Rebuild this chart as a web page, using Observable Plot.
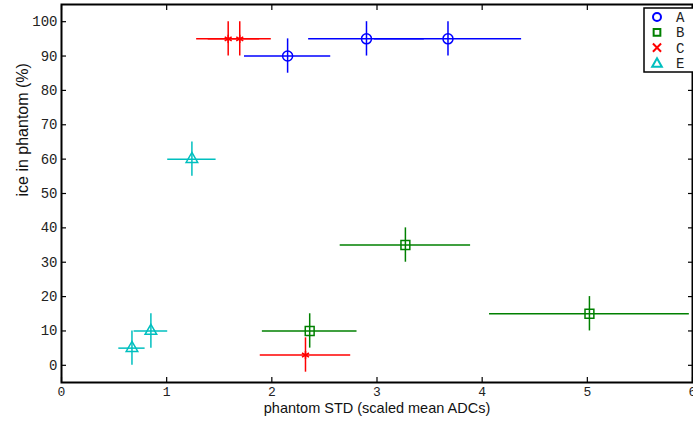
<!DOCTYPE html>
<html><head><meta charset="utf-8">
<script src="https://cdn.jsdelivr.net/npm/d3@7"></script>
<script src="https://cdn.jsdelivr.net/npm/@observablehq/plot@0.6"></script>
<style>
body{margin:0;background:#fff}
#chart{position:relative;width:693px;height:424px;overflow:hidden}
#legend{position:absolute;left:0;top:0}
</style>
</head><body><div id="chart"></div>
<script>
// ---- data ----
const seriesNames = ["A", "B", "C", "E"];
const seriesColors = ["#0000ff", "#008000", "#ff0000", "#00bfbf"];
const seriesSymbols = ["circle", "square", "asterisk", "triangle"];
const legendSymbols = ["circle", "square", "times", "triangle"];

const A_x = [2.15, 2.90, 3.675], A_y = [90, 95, 95], A_xerr = [0.41, 0.55, 0.70];
const B_x = [3.27, 2.36, 5.02],  B_y = [35, 10, 15], B_xerr = [0.62, 0.45, 0.95];
const C_x = [1.585, 1.695, 2.32], C_y = [95, 95, 3], C_xerr = [0.30, 0.30, 0.43];
const E_x = [1.24, 0.85, 0.67],  E_y = [60, 10, 5],  E_xerr = [0.23, 0.16, 0.125];
const yErr = 5;

const xTicks = [0, 1, 2, 3, 4, 5, 6];
const yTicks = [0, 10, 20, 30, 40, 50, 60, 70, 80, 90, 100];
const xLabel = "phantom STD (scaled mean ADCs)";
const yLabel = "ice in phantom (%)";

const seriesData = [[A_x, A_y, A_xerr], [B_x, B_y, B_xerr], [C_x, C_y, C_xerr], [E_x, E_y, E_xerr]];
const rowsBySeries = seriesData.map(([xs, ys, es], i) =>
  xs.map((x, j) => ({series: seriesNames[i], x, y: ys[j], ex: es[j], ey: yErr})));

const symbolR = {circle: 5, square: 5, asterisk: 3.8, triangle: 4.3};
const tickFont = "Liberation Mono, Courier New, monospace";
const labelFont = "Liberation Sans, Arial, Helvetica, sans-serif";

const marks = [];
rowsBySeries.forEach((rows, i) => {
  const c = seriesColors[i];
  marks.push(Plot.ruleY(rows, {y: "y", x1: d => d.x - d.ex, x2: d => d.x + d.ex, stroke: c, strokeWidth: 1.5}));
  marks.push(Plot.ruleX(rows, {x: "x", y1: d => d.y - d.ey, y2: d => d.y + d.ey, stroke: c, strokeWidth: 1.5}));
  marks.push(Plot.dot(rows, {x: "x", y: "y", symbol: seriesSymbols[i], r: symbolR[seriesSymbols[i]], stroke: c, fill: "none", strokeWidth: 1.5}));
});

const plot = Plot.plot({
  width: 693,
  height: 424,
  marginLeft: 61,
  marginRight: 1,
  marginTop: 4,
  marginBottom: 42,
  style: {background: "#fff", color: "#222"},
  x: {domain: [0, 6], label: null},
  y: {domain: [-5, 105], label: null},
  marks: [
    ...marks,
    Plot.axisX(xTicks, {anchor: "bottom", tickSize: -5, tickPadding: 9, label: null, fontFamily: tickFont, fontSize: 13, stroke: "black", strokeWidth: 1.2}),
    Plot.axisY(yTicks, {anchor: "left", tickSize: -5, tickPadding: 9, label: null, fontFamily: tickFont, fontSize: 14, stroke: "black", strokeWidth: 1.2}),
    Plot.axisX(xTicks, {anchor: "top", tickSize: -5, tickFormat: () => "", label: null, stroke: "black", strokeWidth: 1.2}),
    Plot.axisY(yTicks, {anchor: "right", tickSize: -5, tickFormat: () => "", label: null, stroke: "black", strokeWidth: 1.2}),
    Plot.frame({stroke: "black", strokeWidth: 2}),
    Plot.text([xLabel], {frameAnchor: "bottom", dy: 30, fontFamily: labelFont, fontSize: 14.5, fill: "#111"}),
    Plot.text([yLabel], {frameAnchor: "left", rotate: -90, dx: -39, dy: 3, fontFamily: labelFont, fontSize: 16, fill: "#111"})
  ]
});
document.getElementById("chart").appendChild(plot);

// ---- legend ----
const lg = d3.select("#chart").append("svg").attr("id", "legend").attr("width", 693).attr("height", 424);
lg.append("rect").attr("x", 644).attr("y", 8).attr("width", 60).attr("height", 64)
  .attr("fill", "#fff").attr("stroke", "black").attr("stroke-width", 1.5);
const symMap = {circle: d3.symbolCircle, square: d3.symbolSquare, times: d3.symbolTimes, triangle: d3.symbolTriangle};
const symSize = {circle: 50, square: 45, times: 45, triangle: 40};
seriesNames.forEach((name, i) => {
  const cy = 17 + i * 15.3;
  const s = legendSymbols[i];
  lg.append("path").attr("transform", `translate(657,${cy + (s === "triangle" ? 1 : 0)})`)
    .attr("d", d3.symbol(symMap[s], symSize[s])())
    .attr("fill", "none").attr("stroke", seriesColors[i]).attr("stroke-width", 2);
  lg.append("text").attr("x", 676).attr("y", cy).attr("dy", "0.35em")
    .attr("font-family", tickFont).attr("font-size", 14).attr("fill", "#222").text(name);
});
</script>
</body></html>
